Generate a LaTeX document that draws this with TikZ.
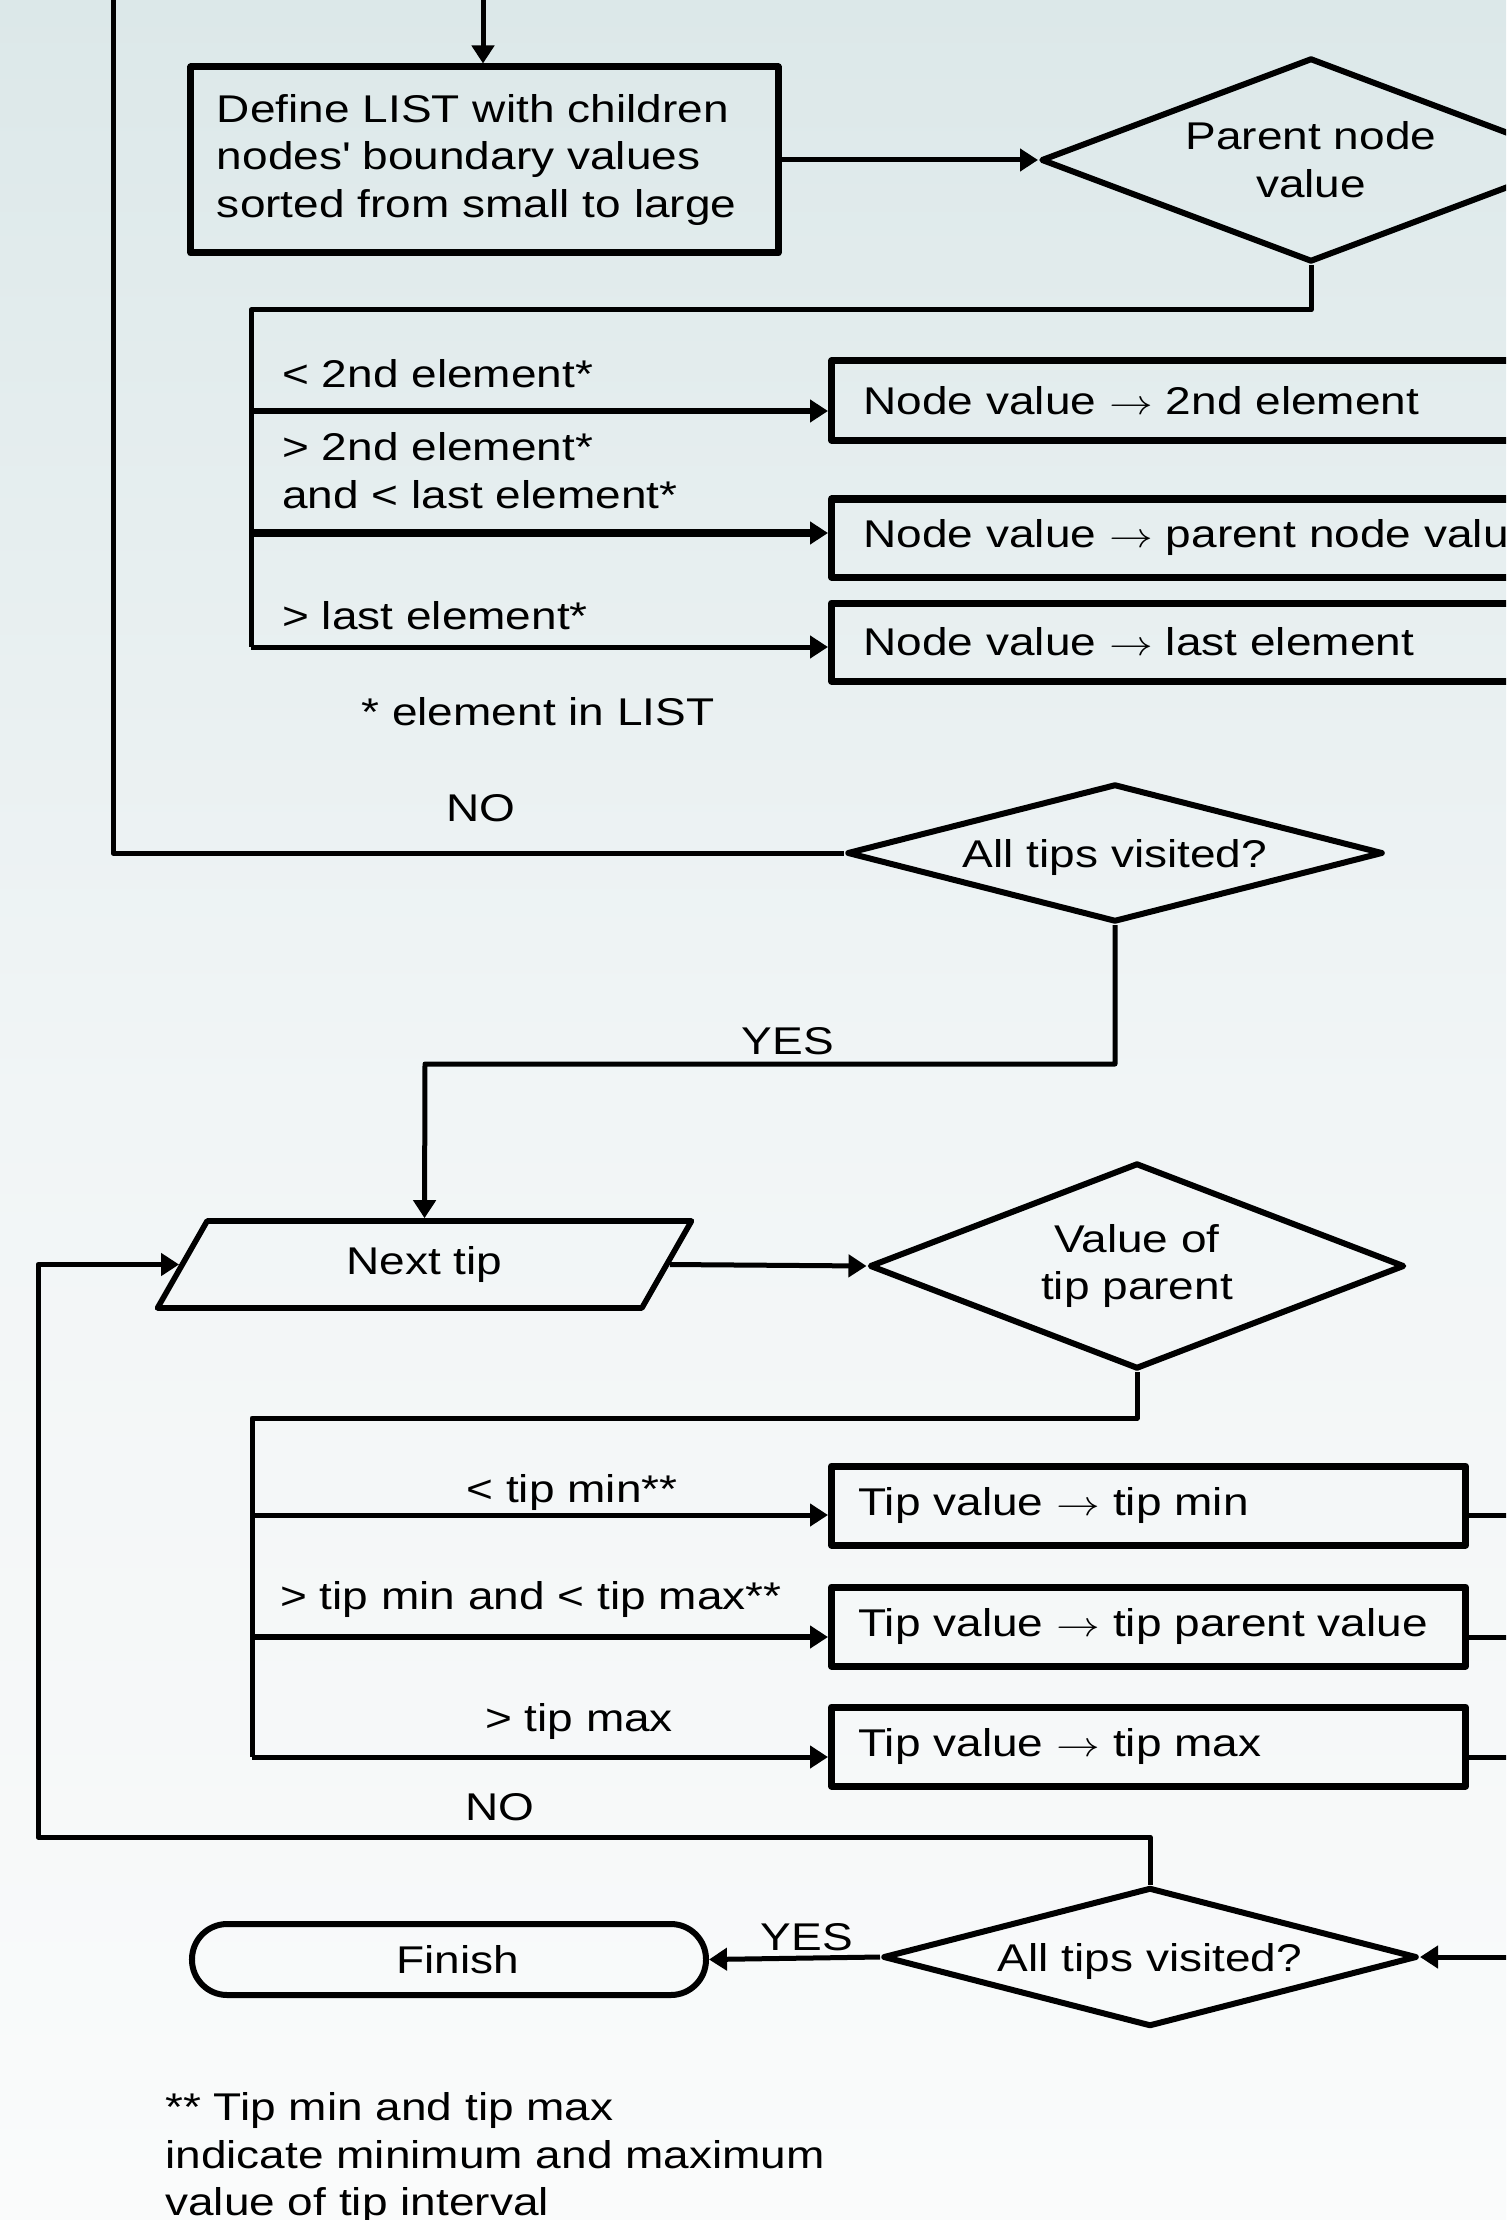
\documentclass[tikz,border=0pt]{standalone}
\usepackage{fontspec}
\setmainfont{Liberation Sans}[FakeStretch=1.19]
\usetikzlibrary{shapes.geometric,arrows.meta}

\definecolor{bgtop}{HTML}{DCE8E9}
\definecolor{bgmid}{HTML}{F1F5F6}
\definecolor{bgbot}{HTML}{FAFBFB}

% Long thin arrow used inside the value boxes.
\newcommand{\valto}{\scalebox{1.25}[1]{$\rightarrow$}}

\begin{document}
\begin{tikzpicture}[
  x=0.25mm,
  y=-0.25mm,
  line join=round,
  every node/.style={font=\fontsize{27.5}{34}\selectfont},
  conn/.style={draw=black,line width=1.25mm},
  flow/.style={conn,-{Triangle[length=4.5mm,width=5.5mm]}},
  heavyflow/.style={flow,line width=1.7mm},
  box/.style={draw=black,line width=1.75mm,rectangle,inner sep=0pt,align=left},
  choice/.style={draw=black,line width=1.5mm,diamond,inner sep=0pt,align=center},
  slanted/.style={draw=black,line width=1.4mm,trapezium,trapezium left angle=63.7,
    trapezium right angle=116.3,trapezium stretches=true,inner sep=0pt},
  terminal/.style={draw=black,line width=1.5mm,rectangle,rounded corners=8.8mm,inner sep=0pt},
  tagtext/.style={inner sep=0pt,align=left}
]
  \useasboundingbox (0,0) rectangle (1506,2220);
  \clip (0,0) rectangle (1506,2220);

  % Background.
  \shade[top color=bgtop,bottom color=bgmid] (0,0) rectangle (1506,1100);
  \shade[top color=bgmid,bottom color=bgbot] (0,1100) rectangle (1506,2221);

  % Entry points from above the frame.
  \coordinate (entry) at (483,0);
  \coordinate (looptop) at (113,0);

  % Children boundaries and parent value.
  \node[box,minimum width=146.75mm,minimum height=46.5mm,text width=133.75mm]
    (deflist) at (484.5,160) {Define LIST with children\\nodes\textquotesingle{} boundary values\\sorted from small to large};
  \node[choice,aspect=2.647,minimum width=135mm,minimum height=51mm] (parent) at (1311,160) {Parent node\\value};

  \node[box,anchor=west,minimum height=19.75mm,text width=172mm,inner xsep=8mm]
    (nv2nd) at (828,400.5) {Node value \valto{} 2nd element};
  \node[box,anchor=west,minimum height=19.5mm,text width=172mm,inner xsep=8mm]
    (nvpar) at (828,538) {Node value \valto{} parent node value};
  \node[box,anchor=west,minimum height=19.5mm,text width=172mm,inner xsep=8mm]
    (nvlast) at (828,642) {Node value \valto{} last element};

  \node[tagtext,anchor=west] (lt2nd) at (282,374) {< 2nd element*};
  \node[tagtext,anchor=west] (mid2nd) at (282,471) {> 2nd element*\\and < last element*};
  \node[tagtext,anchor=west] (gtlast) at (282,616) {> last element*};
  \node[tagtext] (starnote) at (538,712) {* element in LIST};

  % Branch points on the first bus.
  \coordinate (split1) at (251,310);
  \coordinate (b1) at (251,411);
  \coordinate (b2) at (251,533);
  \coordinate (b3) at (251,647);

  \draw[flow] (entry) -- (entry |- deflist.north);
  \draw[flow] (deflist.east) -- (parent.west);
  \draw[conn] (parent.south) |- (split1) -- (b3);
  \draw[heavyflow] (b1) -- (b1 -| nv2nd.west);
  \draw[heavyflow,line width=1.85mm] (b2) -- (b2 -| nvpar.west);
  \draw[flow] (b3) -- (b3 -| nvlast.west);

  % First check.
  \node[choice,aspect=3.884,minimum width=134mm,minimum height=34.5mm,text depth=0pt] (visit1) at (1115,853) {All tips visited?};
  \node[tagtext] (no1) at (481,808) {NO};
  \node[tagtext] (yes1) at (788,1041) {YES};
  \coordinate (yesbend) at (425,1064);

  % Tips.
  \node[slanted,minimum width=133.75mm,minimum height=21.75mm] (nexttip) at (424.5,1264.5) {Next tip};
  \node[choice,aspect=2.597,minimum width=133.75mm,minimum height=51.5mm] (value) at (1137,1266) {Value of\\tip parent};

  \draw[conn] (visit1.west) -| (looptop);
  \draw[flow] (visit1.south) |- (yesbend) -- (nexttip.north);

  \node[box,anchor=west,minimum height=19.75mm,text width=145mm,inner xsep=6.75mm]
    (tipmin) at (828,1505.5) {Tip value \valto{} tip min};
  \node[box,anchor=west,minimum height=19.75mm,text width=145mm,inner xsep=6.75mm]
    (tippar) at (828,1626.5) {Tip value \valto{} tip parent value};
  \node[box,anchor=west,minimum height=19.75mm,text width=145mm,inner xsep=6.75mm]
    (tipmax) at (828,1746.5) {Tip value \valto{} tip max};

  \node[tagtext] (ltmin) at (572,1492) {< tip min**};
  \node[tagtext,anchor=west] (midtip) at (280,1599) {> tip min and < tip max**};
  \node[tagtext] (gtmax) at (579,1721) {> tip max};

  % Branch points on the second bus.
  \coordinate (split2) at (252,1418);
  \coordinate (b4) at (252,1515);
  \coordinate (b5) at (252,1637);
  \coordinate (b6) at (252,1757);
  \coordinate (rbus) at (1545,1515);

  \draw[flow] (nexttip.east) -- (value.west);
  \draw[conn] (value.south) |- (split2) -- (b6);
  \draw[flow] (b4) -- (b4 -| tipmin.west);
  \draw[heavyflow] (b5) -- (b5 -| tippar.west);
  \draw[flow] (b6) -- (b6 -| tipmax.west);

  % Second check.
  \node[choice,aspect=3.842,minimum width=133.5mm,minimum height=34.75mm,text depth=0pt] (visit2) at (1150,1957) {All tips visited?};
  \node[terminal,minimum width=128.5mm,minimum height=17.75mm] (finish) at (449,1959.5) {\hspace*{4.5mm}Finish};
  \node[tagtext] (no2) at (500,1807) {NO};
  \node[tagtext] (yes2) at (807,1937) {YES};
  \coordinate (retcorner) at (38,1837);

  \draw[conn] (b4 -| tipmin.east) -- (b4 -| rbus);
  \draw[conn] (b5 -| tippar.east) -- (b5 -| rbus);
  \draw[conn] (b6 -| tipmax.east) -- (b6 -| rbus);
  \draw[conn] (rbus) -- (rbus |- visit2.east);
  \draw[flow] (rbus |- visit2.east) -- (visit2.east);
  \draw[flow] (visit2.north) |- (retcorner) |- (nexttip.west);
  \draw[flow] (visit2.west) -- (finish.east);

  \node[tagtext,anchor=west] (tipnote) at (165,2158)
    {** Tip min and tip max\\indicate minimum and maximum\\value of tip interval};
\end{tikzpicture}
\end{document}
